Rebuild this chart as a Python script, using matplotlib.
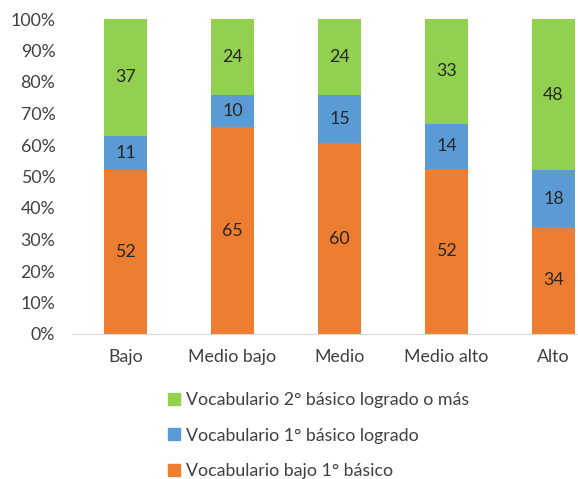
import numpy as np
import matplotlib.pyplot as plt
from matplotlib.patches import Patch

plt.rcParams['font.family'] = ['Lato', 'DejaVu Sans']

categories = ["Bajo", "Medio bajo", "Medio", "Medio alto", "Alto"]
bajo_1 = [52, 65, 60, 52, 34]       # Vocabulario bajo 1° básico
logrado_1 = [11, 10, 15, 14, 18]    # Vocabulario 1° básico logrado
logrado_2 = [37, 24, 24, 33, 48]    # Vocabulario 2° básico logrado o más

series = [
    ("Vocabulario bajo 1° básico", bajo_1, "#ED7D31"),
    ("Vocabulario 1° básico logrado", logrado_1, "#5B9BD5"),
    ("Vocabulario 2° básico logrado o más", logrado_2, "#92D050"),
]

totals = np.sum([s[1] for s in series], axis=0).astype(float)

fig = plt.figure(figsize=(5.78, 4.79), dpi=100)
ax = fig.add_axes([72 / 578, 1 - 334 / 479, 535 / 578, 315 / 479])

fs = 12.8
x = np.arange(len(categories))
bottom = np.zeros(len(categories))
for name, vals, color in series:
    pct = np.array(vals) / totals * 100
    ax.bar(x, pct, bottom=bottom, width=0.4, color=color, label=name)
    for xi, b, p, v in zip(x, bottom, pct, vals):
        ax.text(xi, b + p / 2, str(v), ha="center", va="center",
                fontsize=fs, color="#262626")
    bottom += pct

ax.set_xlim(-0.5, len(categories) - 0.5)
ax.set_ylim(0, 100)
ax.set_yticks(np.arange(0, 101, 10))
ax.set_yticklabels([f"{t}%" for t in range(0, 101, 10)])
ax.set_xticks(x)
ax.set_xticklabels(categories)
ax.tick_params(axis="both", length=0, labelsize=fs, colors="#404040")
ax.tick_params(axis="x", pad=11)
ax.tick_params(axis="y", pad=12)
for side in ["top", "right", "left"]:
    ax.spines[side].set_visible(False)
ax.spines["bottom"].set_color("#D9D9D9")

handles = [Patch(color=c, label=n) for n, _, c in reversed(series)]
fig.legend(handles=handles, loc="upper left", bbox_to_anchor=(152 / 578, 1 - 376 / 479),
           frameon=False, fontsize=fs, handlelength=0.65, handleheight=0.65,
           handletextpad=0.35, labelspacing=1.1, labelcolor="#404040")

fig.savefig("out.png", dpi=100)
